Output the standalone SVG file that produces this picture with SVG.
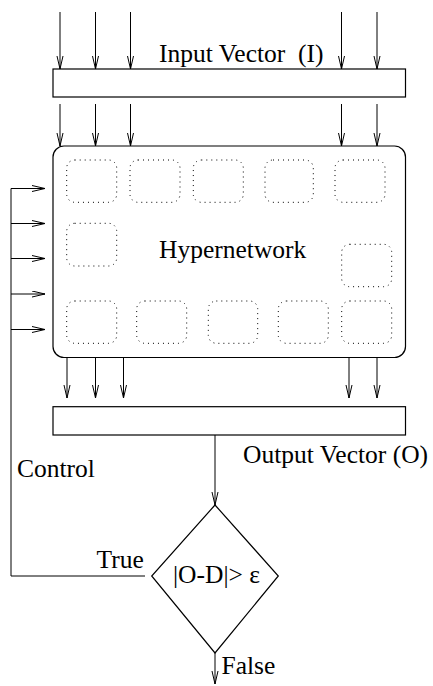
<svg xmlns="http://www.w3.org/2000/svg" width="433" height="686" viewBox="0 0 433 686">
<style>
.ln{stroke:#000;stroke-width:1;fill:none}
.box{stroke:#000;stroke-width:1.2;fill:#fff}
.dot{stroke:#000;stroke-width:1;fill:none;stroke-dasharray:1 4}
text{font-family:"Liberation Serif","Times New Roman",serif;font-size:25.5px;fill:#000}
</style>
<defs>
<marker id="ah" markerUnits="userSpaceOnUse" markerWidth="16" markerHeight="10" refX="13" refY="3.5" orient="auto">
<path d="M0,0.5 L13,3.5 L0,6.5" fill="none" stroke="#000" stroke-width="1"/>
</marker>
</defs>
<rect width="433" height="686" fill="#fff"/>
<g id="connectors">
<line class="ln" x1="60" y1="12" x2="60" y2="69" marker-end="url(#ah)"/>
<line class="ln" x1="95.5" y1="12" x2="95.5" y2="69" marker-end="url(#ah)"/>
<line class="ln" x1="130.5" y1="12" x2="130.5" y2="69" marker-end="url(#ah)"/>
<line class="ln" x1="341.5" y1="12" x2="341.5" y2="69" marker-end="url(#ah)"/>
<line class="ln" x1="377" y1="12" x2="377" y2="69" marker-end="url(#ah)"/>
<line class="ln" x1="60" y1="104" x2="60" y2="146" marker-end="url(#ah)"/>
<line class="ln" x1="95.5" y1="104" x2="95.5" y2="146" marker-end="url(#ah)"/>
<line class="ln" x1="130.5" y1="104" x2="130.5" y2="146" marker-end="url(#ah)"/>
<line class="ln" x1="341.5" y1="104" x2="341.5" y2="146" marker-end="url(#ah)"/>
<line class="ln" x1="377" y1="104" x2="377" y2="146" marker-end="url(#ah)"/>
<line class="ln" x1="67" y1="357" x2="67" y2="398" marker-end="url(#ah)"/>
<line class="ln" x1="95.5" y1="357" x2="95.5" y2="398" marker-end="url(#ah)"/>
<line class="ln" x1="123.5" y1="357" x2="123.5" y2="398" marker-end="url(#ah)"/>
<line class="ln" x1="349" y1="357" x2="349" y2="398" marker-end="url(#ah)"/>
<line class="ln" x1="377" y1="357" x2="377" y2="398" marker-end="url(#ah)"/>
<line class="ln" x1="215" y1="435" x2="215" y2="505" marker-end="url(#ah)"/>
<line class="ln" x1="215" y1="653" x2="215" y2="684" marker-end="url(#ah)"/>
<polyline class="ln" points="145,576 11,576 11,188.5 45,188.5" marker-end="url(#ah)"/>
<line class="ln" x1="11" y1="223.5" x2="45" y2="223.5" marker-end="url(#ah)"/>
<line class="ln" x1="11" y1="258.5" x2="45" y2="258.5" marker-end="url(#ah)"/>
<line class="ln" x1="11" y1="294" x2="45" y2="294" marker-end="url(#ah)"/>
<line class="ln" x1="11" y1="329.5" x2="45" y2="329.5" marker-end="url(#ah)"/>
</g>
<g id="input-vector">
<rect class="box" x="53" y="69" width="352.5" height="28"/>
<text x="159" y="62">Input Vector&#160; (I)</text>
</g>
<g id="hypernetwork">
<rect class="box" x="53" y="146" width="352.5" height="211.5" rx="11"/>
<rect class="dot" x="66.7" y="160" width="50" height="42.3" rx="8"/>
<rect class="dot" x="130" y="160" width="50" height="42.3" rx="8"/>
<rect class="dot" x="193.3" y="160" width="50" height="42.3" rx="8"/>
<rect class="dot" x="265" y="160" width="48.3" height="42.3" rx="8"/>
<rect class="dot" x="335" y="160" width="50" height="42.3" rx="8"/>
<rect class="dot" x="66.7" y="223.3" width="50" height="42.7" rx="8"/>
<rect class="dot" x="341.7" y="244.3" width="50" height="42.4" rx="8"/>
<rect class="dot" x="66.7" y="301" width="50" height="42.3" rx="8"/>
<rect class="dot" x="136.7" y="301" width="50" height="42.3" rx="8"/>
<rect class="dot" x="208.3" y="301" width="49.4" height="42.3" rx="8"/>
<rect class="dot" x="278.3" y="301" width="50" height="42.3" rx="8"/>
<rect class="dot" x="341.7" y="301" width="50" height="42.3" rx="8"/>
<text x="159" y="258">Hypernetwork</text>
</g>
<g id="output-vector">
<rect class="box" x="53" y="406.7" width="352.5" height="28.3"/>
<text x="243" y="462.5">Output Vector (O)</text>
</g>
<g id="decision">
<polygon class="box" points="215,505 278.3,576 215,653 151.7,576"/>
<text x="173" y="582.5">|O-D|&gt; ε</text>
</g>
<g id="labels">
<text x="17" y="477">Control</text>
<text x="96.5" y="568">True</text>
<text x="221.5" y="674">False</text>
</g>
</svg>
